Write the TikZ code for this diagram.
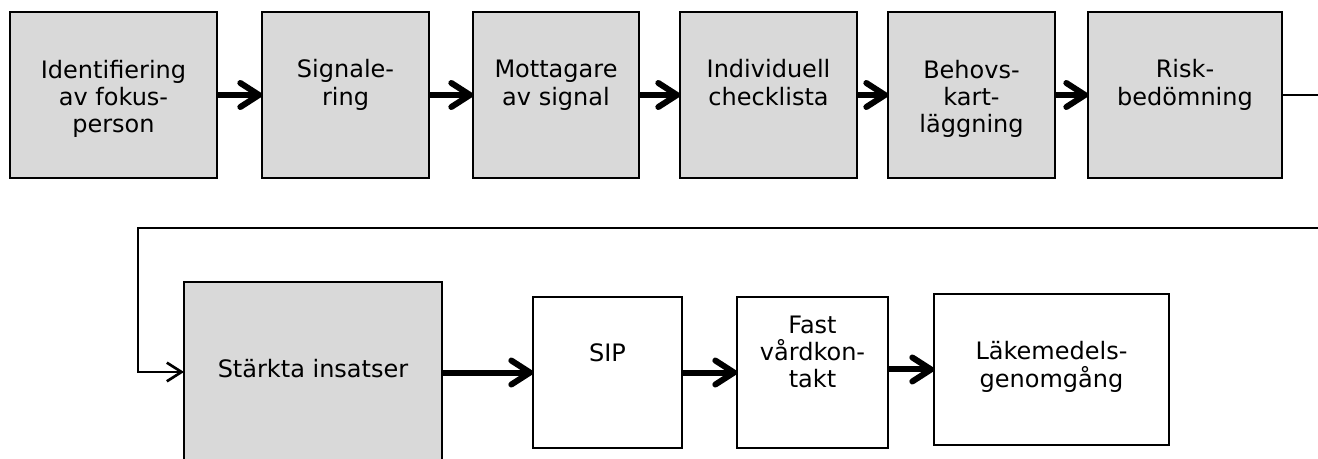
\documentclass[tikz,border=0pt]{standalone}
\usepackage{fontspec}
\setmainfont{DejaVu Sans}
\usetikzlibrary{arrows.meta}
\usetikzlibrary{positioning}

\definecolor{boxgray}{HTML}{D9D9D9}

\tikzset{
  stepbox/.style={draw, line width=1.9pt, rectangle, align=center,
    inner xsep=0pt, inner ysep=0pt, outer sep=0pt, anchor=north west,
    font=\fontsize{18}{20.6}\selectfont},
  topbox/.style={stepbox, fill=boxgray, text height=70.1pt, text depth=54.4pt},
  topboxtall/.style={topbox, text height=90.75pt, text depth=33.75pt},
  flow/.style={line width=4.5pt, -{Straight Barb[length=14pt,width=18pt,round]}},
  loopline/.style={line width=2pt, -{Straight Barb[length=11pt,width=14pt]}}
}

\begin{document}
\begin{tikzpicture}[x=0.75pt, y=-0.75pt]
  \useasboundingbox (0,0) rectangle (1318,459);

  % first row
  \node[topboxtall, minimum width=155.25pt] (ident) at (10,12) {Identifiering\\av fokus-\\person};
  \node[topbox, minimum width=125.25pt, right=33.75pt of ident] (signal) {Signale-\\ring};
  \node[topbox, minimum width=124.5pt, right=33pt of signal] (mottag) {Mottagare\\av signal};
  \node[topbox, minimum width=132.75pt, right=30.75pt of mottag] (indiv) {Individuell\\checklista};
  \node[topboxtall, minimum width=125.25pt, right=23.25pt of indiv] (behov) {Behovs-\\kart-\\läggning};
  \node[topbox, minimum width=145.5pt, right=24.75pt of behov] (risk) {Risk-\\bedömning};

  % second row
  \node[stepbox, fill=boxgray, minimum width=193.5pt, text height=72pt, text depth=63pt] (stark) at (184,282) {Stärkta insatser};
  \node[stepbox, minimum width=111.75pt, text height=48.4pt, text depth=64.9pt] (sip) at (533,297) {SIP};
  \node[stepbox, minimum width=113.25pt, text height=68.25pt, text depth=45pt] (fast) at (737,297) {Fast\\vårdkon-\\takt};
  \node[stepbox, minimum width=176.25pt, text height=70.1pt, text depth=43.1pt] (lak) at (934,294) {Läkemedels-\\genomgång};

  \draw[flow] (ident) -- (signal);
  \draw[flow] (signal) -- (mottag);
  \draw[flow] (mottag) -- (indiv);
  \draw[flow] (indiv) -- (behov);
  \draw[flow] (behov) -- (risk);

  \coordinate (turn) at (1325,228);
  \draw[loopline] (risk.east) -- (risk.east -| turn) -- (turn) -- (138,228) |- (stark.west);

  \draw[flow] (stark.east |- sip.west) -- (sip.west);
  \draw[flow] (sip.east) -- (sip.east -| fast.west);
  \draw[flow] (fast.east |- lak.west) -- (lak.west);

\end{tikzpicture}
\end{document}
